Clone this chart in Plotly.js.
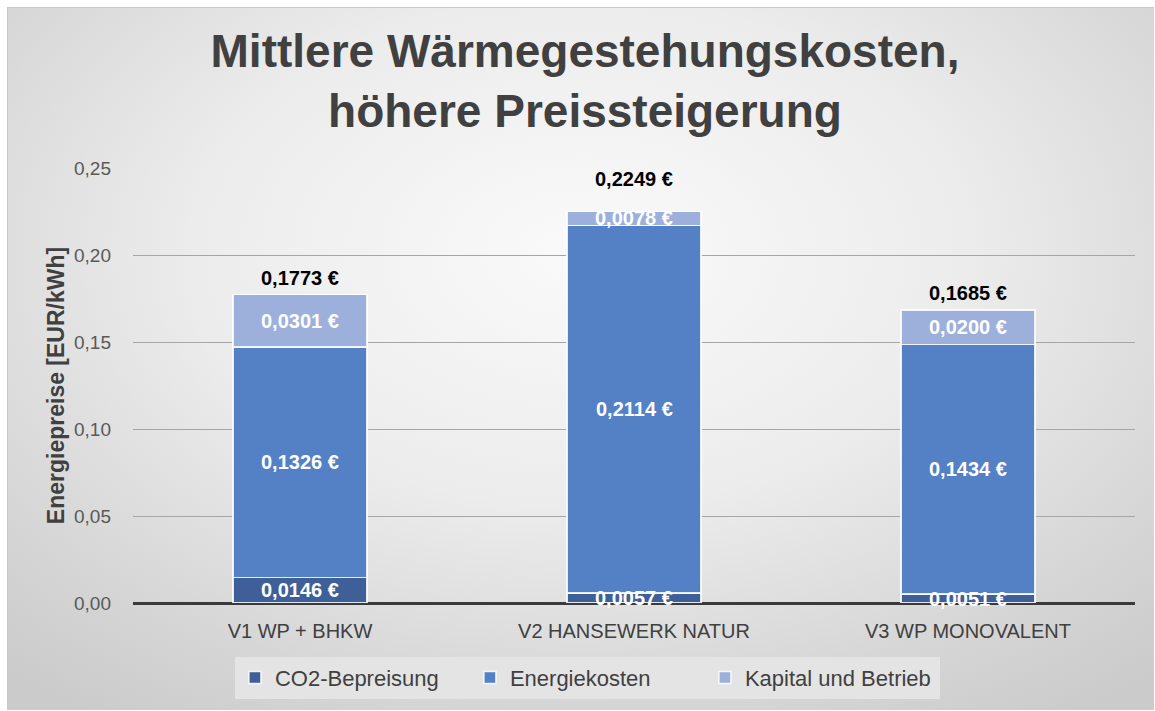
<!DOCTYPE html>
<html><head><meta charset="utf-8">
<script src="https://cdn.plot.ly/plotly-3.0.1.min.js"></script>
<style>
html,body{margin:0;padding:0;background:#fff;}
#bg{position:absolute;left:7px;top:7px;width:1146px;height:702px;
 background:radial-gradient(ellipse 75% 80% at 50% 35%, #fafafa 0%, #ececec 45%, #d6d6d6 80%, #cbcbcb 100%);
 border-left:1px solid #c8c8c8;border-top:1px solid #c8c8c8;}
#chart{position:absolute;left:0;top:0;width:1155px;height:711px;}
</style></head>
<body>
<div id="bg"></div>
<div id="chart"></div>
<script>
const categories = ["V1 WP + BHKW", "V2 HANSEWERK NATUR", "V3 WP MONOVALENT"];
const co2 = [0.0146, 0.0057, 0.0051];
const energie = [0.1326, 0.2114, 0.1434];
const kapital = [0.0301, 0.0078, 0.0200];
const totals = [0.1773, 0.2249, 0.1685];
const seriesNames = ["CO2-Bepreisung", "Energiekosten", "Kapital und Betrieb"];
const yTicks = [0, 0.05, 0.10, 0.15, 0.20, 0.25];

const FONT = "Liberation Sans, Arial, sans-serif";
function fmt(v){ return v.toFixed(4).replace(".", ",") + " €"; }

function barTrace(name, vals, color){
  return {
    type: "bar", name: name, x: categories, y: vals,
    marker: {color: color, line: {color: "rgba(255,255,255,0.85)", width: 1.5}},
    hoverinfo: "skip"
  };
}
const data = [
  barTrace(seriesNames[0], co2, "#3f5f98"),
  barTrace(seriesNames[1], energie, "#5480c6"),
  barTrace(seriesNames[2], kapital, "#9db0dc")
];

const annotations = [];
// segment labels, centred on each stacked segment
const stacks = [co2, energie, kapital];
categories.forEach((c, i) => {
  let base = 0;
  stacks.forEach(s => {
    annotations.push({
      x: c, y: base + s[i] / 2, xref: "x", yref: "y",
      text: "<b>" + fmt(s[i]) + "</b>", showarrow: false,
      font: {family: FONT, size: 20, color: "#ffffff"},
      xanchor: "center", yanchor: "middle"
    });
    base += s[i];
  });
});
// total labels above each bar (label offsets as in the original chart)
const totalLift = [4, 20, 4];
categories.forEach((c, i) => {
  annotations.push({
    x: c, y: totals[i], xref: "x", yref: "y",
    text: "<b>" + fmt(totals[i]) + "</b>", showarrow: false,
    font: {family: FONT, size: 20, color: "#000000"},
    xanchor: "center", yanchor: "bottom", yshift: totalLift[i]
  });
});

const layout = {
  width: 1155, height: 711,
  paper_bgcolor: "rgba(0,0,0,0)", plot_bgcolor: "rgba(0,0,0,0)",
  margin: {l: 133, r: 20, t: 168, b: 106},
  separators: ",.",
  barmode: "stack", bargap: 0.6,
  title: {
    text: "<b>Mittlere Wärmegestehungskosten,<br>höhere Preissteigerung</b>",
    font: {family: FONT, size: 46, color: "#404040"},
    x: 0.5065, xref: "container", xanchor: "center",
    y: 0.906, yref: "container", yanchor: "middle"
  },
  xaxis: {
    type: "category", showgrid: false, showline: false, ticks: "",
    ticklabelstandoff: 14,
    tickfont: {family: FONT, size: 20, color: "#404040"}
  },
  yaxis: {
    range: [0, 0.25], tickvals: yTicks, tickformat: ".2f",
    showgrid: true, gridcolor: "#a6a6a6", gridwidth: 1,
    zeroline: true, zerolinecolor: "#3a3a3a", zerolinewidth: 3,
    ticks: "", ticklabelstandoff: 21,
    tickfont: {family: FONT, size: 19, color: "#595959"},
    title: {text: "<b>Energiepreise [EUR/kWh]</b>", font: {family: FONT, size: 23, color: "#404040"}, standoff: 2}
  },
  annotations: annotations,
  showlegend: true,
  legend: {
    orientation: "h", x: 0.4535, xanchor: "center", xref: "paper",
    y: -0.172, yanchor: "middle", yref: "paper",
    bgcolor: "#e4e4e4", borderwidth: 0,
    font: {family: FONT, size: 22, color: "#404040"},
    entrywidth: 190, entrywidthmode: "pixels",
    traceorder: "normal", itemclick: false
  }
};
Plotly.newPlot("chart", data, layout, {displayModeBar: false, staticPlot: true});
</script>
</body></html>
